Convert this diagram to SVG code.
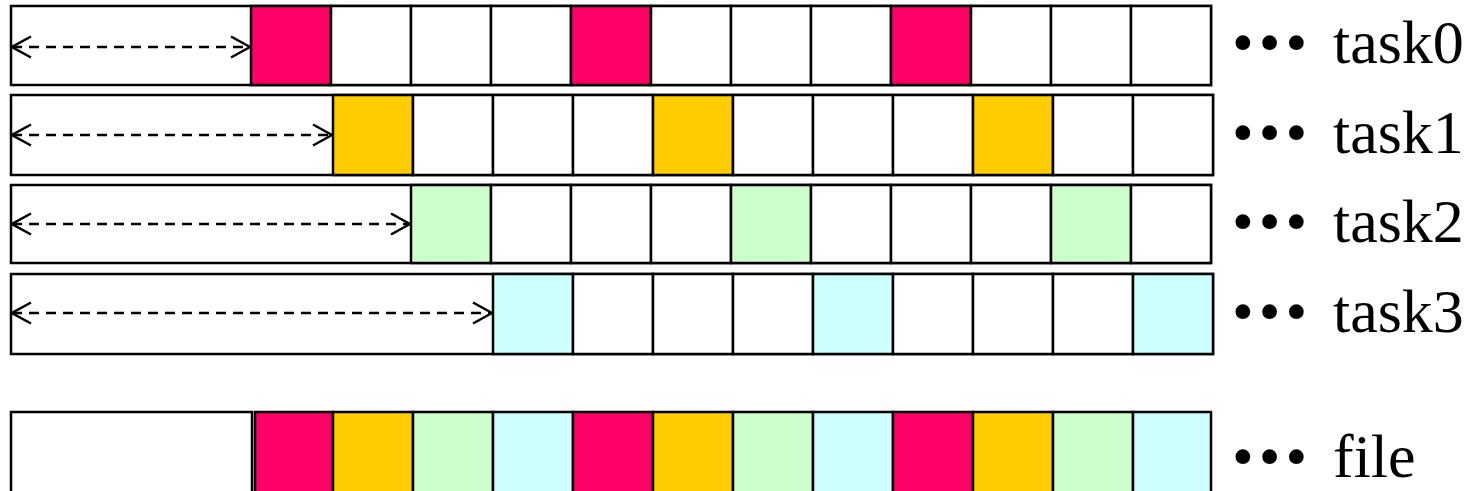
<svg xmlns="http://www.w3.org/2000/svg" width="1472" height="491" viewBox="0 0 1472 491">
<style>
.frame{fill:#fff;stroke:#000;stroke-width:2.5}
.c{stroke:#000;stroke-width:2.5}
.w{fill:#fff}
.r{fill:#FF0066}
.y{fill:#FFCC00}
.g{fill:#CCFFCC}
.b{fill:#CCFFFF}
.lbl{font-size:62px;fill:#000}
.dots{letter-spacing:5px}
.arr{fill:none;stroke:#000;stroke-width:2.5;stroke-dasharray:10 7;marker-start:url(#ah);marker-end:url(#ah)}
</style>
<defs>
<marker id="ah" viewBox="0 0 22 24" refX="20.5" refY="12" markerWidth="22" markerHeight="24" markerUnits="userSpaceOnUse" orient="auto-start-reverse">
<path d="M1.5,1.5 L20.5,12 L1.5,22.5" fill="none" stroke="#000" stroke-width="2.5"/>
</marker>
</defs>

<g id="task0">
<rect class="frame" x="11" y="6" width="1200" height="79"/>
<rect class="c r" x="251" y="6" width="80" height="79"/>
<rect class="c w" x="331" y="6" width="80" height="79"/>
<rect class="c w" x="411" y="6" width="80" height="79"/>
<rect class="c w" x="491" y="6" width="80" height="79"/>
<rect class="c r" x="571" y="6" width="80" height="79"/>
<rect class="c w" x="651" y="6" width="80" height="79"/>
<rect class="c w" x="731" y="6" width="80" height="79"/>
<rect class="c w" x="811" y="6" width="80" height="79"/>
<rect class="c r" x="891" y="6" width="80" height="79"/>
<rect class="c w" x="971" y="6" width="80" height="79"/>
<rect class="c w" x="1051" y="6" width="80" height="79"/>
<rect class="c w" x="1131" y="6" width="80" height="79"/>
<text class="lbl" font-family="'Liberation Serif', 'Times New Roman', serif" y="63"><tspan class="dots" x="1232">•••</tspan><tspan x="1333">task0</tspan></text>
</g>

<g id="task1">
<rect class="frame" x="11" y="95" width="1202" height="80"/>
<rect class="c y" x="333" y="95" width="80" height="80"/>
<rect class="c w" x="413" y="95" width="80" height="80"/>
<rect class="c w" x="493" y="95" width="80" height="80"/>
<rect class="c w" x="573" y="95" width="80" height="80"/>
<rect class="c y" x="653" y="95" width="80" height="80"/>
<rect class="c w" x="733" y="95" width="80" height="80"/>
<rect class="c w" x="813" y="95" width="80" height="80"/>
<rect class="c w" x="893" y="95" width="80" height="80"/>
<rect class="c y" x="973" y="95" width="80" height="80"/>
<rect class="c w" x="1053" y="95" width="80" height="80"/>
<rect class="c w" x="1133" y="95" width="80" height="80"/>
<text class="lbl" font-family="'Liberation Serif', 'Times New Roman', serif" y="153"><tspan class="dots" x="1232">•••</tspan><tspan x="1333">task1</tspan></text>
</g>

<g id="task2">
<rect class="frame" x="11" y="185" width="1200" height="78"/>
<rect class="c g" x="411" y="185" width="80" height="78"/>
<rect class="c w" x="491" y="185" width="80" height="78"/>
<rect class="c w" x="571" y="185" width="80" height="78"/>
<rect class="c w" x="651" y="185" width="80" height="78"/>
<rect class="c g" x="731" y="185" width="80" height="78"/>
<rect class="c w" x="811" y="185" width="80" height="78"/>
<rect class="c w" x="891" y="185" width="80" height="78"/>
<rect class="c w" x="971" y="185" width="80" height="78"/>
<rect class="c g" x="1051" y="185" width="80" height="78"/>
<rect class="c w" x="1131" y="185" width="80" height="78"/>
<text class="lbl" font-family="'Liberation Serif', 'Times New Roman', serif" y="242"><tspan class="dots" x="1232">•••</tspan><tspan x="1333">task2</tspan></text>
</g>

<g id="task3">
<rect class="frame" x="11" y="274" width="1202" height="80"/>
<rect class="c b" x="493" y="274" width="80" height="80"/>
<rect class="c w" x="573" y="274" width="80" height="80"/>
<rect class="c w" x="653" y="274" width="80" height="80"/>
<rect class="c w" x="733" y="274" width="80" height="80"/>
<rect class="c b" x="813" y="274" width="80" height="80"/>
<rect class="c w" x="893" y="274" width="80" height="80"/>
<rect class="c w" x="973" y="274" width="80" height="80"/>
<rect class="c w" x="1053" y="274" width="80" height="80"/>
<rect class="c b" x="1133" y="274" width="80" height="80"/>
<text class="lbl" font-family="'Liberation Serif', 'Times New Roman', serif" y="332"><tspan class="dots" x="1232">•••</tspan><tspan x="1333">task3</tspan></text>
</g>

<g id="file">
<rect class="c w" x="11" y="412" width="241" height="82"/>
<rect class="c r" x="255" y="412" width="78" height="82"/>
<rect class="c y" x="333" y="412" width="80" height="82"/>
<rect class="c g" x="413" y="412" width="80" height="82"/>
<rect class="c b" x="493" y="412" width="80" height="82"/>
<rect class="c r" x="573" y="412" width="80" height="82"/>
<rect class="c y" x="653" y="412" width="80" height="82"/>
<rect class="c g" x="733" y="412" width="80" height="82"/>
<rect class="c b" x="813" y="412" width="80" height="82"/>
<rect class="c r" x="893" y="412" width="80" height="82"/>
<rect class="c y" x="973" y="412" width="80" height="82"/>
<rect class="c g" x="1053" y="412" width="80" height="82"/>
<rect class="c b" x="1133" y="412" width="78" height="82"/>
<text class="lbl" font-family="'Liberation Serif', 'Times New Roman', serif" y="477"><tspan class="dots" x="1232">•••</tspan><tspan x="1333">file</tspan></text>
</g>

<g id="connectors">
<line class="arr" x1="12" y1="47" x2="250" y2="47"/>
<line class="arr" x1="12" y1="135" x2="332" y2="135"/>
<line class="arr" x1="12" y1="224" x2="410" y2="224"/>
<line class="arr" x1="12" y1="313" x2="492" y2="313"/>
</g>
</svg>
